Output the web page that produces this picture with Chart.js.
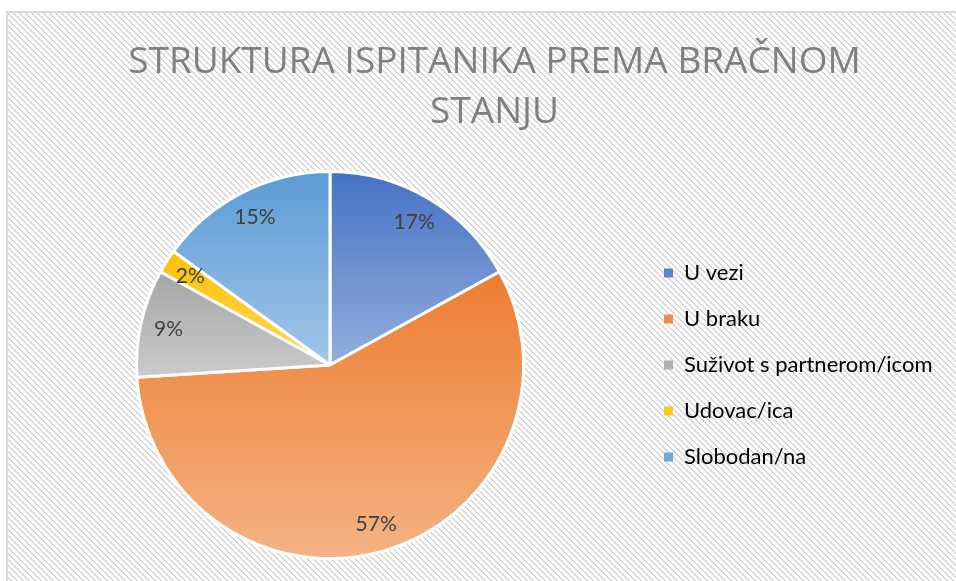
<!DOCTYPE html>
<html>
<head>
<meta charset="utf-8">
<script src="https://cdn.jsdelivr.net/npm/chart.js@4/dist/chart.umd.min.js"></script>
<style>
  html, body { margin: 0; padding: 0; background: #ffffff; overflow: hidden; }
  #wrap { position: relative; width: 990px; height: 581px; }
</style>
</head>
<body>
<div id="wrap"><canvas id="pieChart" width="990" height="581"></canvas></div>
<script>
"use strict";

const titleLines = ["STRUKTURA ISPITANIKA PREMA BRAČNOM", "STANJU"];
const categories = ["U vezi", "U braku", "Suživot s partnerom/icom", "Udovac/ica", "Slobodan/na"];
const shares = [17, 57, 9, 2, 15];
const topColors = ["#4472C4", "#ED7D31", "#A5A5A5", "#FFC000", "#5B9BD5"];
const bottomColors = ["#94AEDD", "#F5B384", "#CBCBCB", "#FFD75C", "#A2C6E8"];
const legendColors = ["#5A84CE", "#EF8B48", "#B0B0B0", "#FFC820", "#6FA8DB"];

/**
 * Builds the diagonal hatch used behind the chart
 */
function makeHatch(ctx) {
  const tile = document.createElement("canvas");
  tile.width = 6;
  tile.height = 6;
  const t = tile.getContext("2d");
  t.fillStyle = "#ffffff";
  t.fillRect(0, 0, 6, 6);
  t.fillStyle = "#d6d6d6";
  for (let y = 0; y < 6; y++) {
    for (let x = 0; x < 6; x++) {
      const d = (((x - y) % 6) + 6) % 6;
      if (d < 2) t.fillRect(x, y, 1, 1);
    }
  }
  return ctx.createPattern(tile, "repeat");
}

/**
 * Vertical gradient over the bounding box of one slice
 */
function sliceGradient(context) {
  const chart = context.chart;
  const area = chart.chartArea;
  const i = context.dataIndex;
  if (!area || i === undefined) return topColors[i || 0];
  const total = shares.reduce((a, b) => a + b, 0);
  const before = shares.slice(0, i).reduce((a, b) => a + b, 0);
  const start = -Math.PI / 2 + (2 * Math.PI * before) / total;
  const end = start + (2 * Math.PI * shares[i]) / total;
  const cx = (area.left + area.right) / 2;
  const cy = (area.top + area.bottom) / 2;
  const r = Math.min(area.width, area.height) / 2;
  const ys = [cy, cy + r * Math.sin(start), cy + r * Math.sin(end)];
  if (start <= Math.PI / 2 && end >= Math.PI / 2) ys.push(cy + r);
  if (start <= -Math.PI / 2 + 1e-6 || end >= (3 * Math.PI) / 2 - 1e-6) ys.push(cy - r);
  const y0 = Math.min(...ys), y1 = Math.max(...ys);
  const g = chart.ctx.createLinearGradient(0, y0, 0, y1);
  g.addColorStop(0, topColors[i]);
  g.addColorStop(1, bottomColors[i]);
  return g;
}

// background hatch and frame of the chart box
const frame = {
  id: "frame",
  beforeDraw(chart) {
    const ctx = chart.ctx;
    ctx.save();
    ctx.fillStyle = makeHatch(ctx);
    ctx.fillRect(7, 12, 974, 600);
    ctx.strokeStyle = "#d9d9d9";
    ctx.lineWidth = 2;
    ctx.strokeRect(7, 12, 974, 600);
    ctx.restore();
  },
};

// percentage labels inside the slices
const sliceLabels = {
  id: "sliceLabels",
  afterDatasetsDraw(chart) {
    const ctx = chart.ctx;
    const meta = chart.getDatasetMeta(0);
    ctx.save();
    ctx.font = "21px Lato";
    ctx.fillStyle = "#404040";
    ctx.textAlign = "center";
    ctx.textBaseline = "middle";
    meta.data.forEach((arc, i) => {
      const mid = (arc.startAngle + arc.endAngle) / 2;
      const r = arc.outerRadius * 0.855;
      ctx.fillText(shares[i] + "%", arc.x + Math.cos(mid) * r, arc.y + Math.sin(mid) * r);
    });
    ctx.restore();
  },
};

// fixed legend width so pie, title and legend line up
const legendWidth = {
  id: "legendWidth",
  afterInit(chart) {
    const fit = chart.legend.fit;
    chart.legend.fit = function () {
      fit.call(this);
      this.width = 329;
    };
  },
};

new Chart(document.getElementById("pieChart"), {
  type: "pie",
  data: {
    labels: categories,
    datasets: [
      {
        data: shares,
        backgroundColor: sliceGradient,
        borderColor: "#ffffff",
        borderWidth: 3,
      },
    ],
  },
  options: {
    responsive: false,
    animation: false,
    layout: { padding: { top: 0, left: 20, right: 21, bottom: 21 } },
    plugins: {
      title: {
        display: true,
        text: titleLines,
        color: "#7f7f7f",
        font: { family: "Open Sans", size: 37, weight: "400", lineHeight: 50 / 37 },
        padding: { top: 37, bottom: 33 },
      },
      legend: {
        position: "right",
        fullSize: false,
        labels: {
          boxWidth: 9,
          boxHeight: 9,
          padding: 24,
          color: "#595959",
          font: { family: "Lato", size: 22 },
          generateLabels: () =>
            categories.map((c, i) => ({
              text: c,
              fillStyle: legendColors[i],
              strokeStyle: legendColors[i],
              lineWidth: 0,
              index: i,
              hidden: false,
            })),
        },
      },
      tooltip: { enabled: false },
    },
  },
  plugins: [frame, sliceLabels, legendWidth],
});
</script>
</body>
</html>
